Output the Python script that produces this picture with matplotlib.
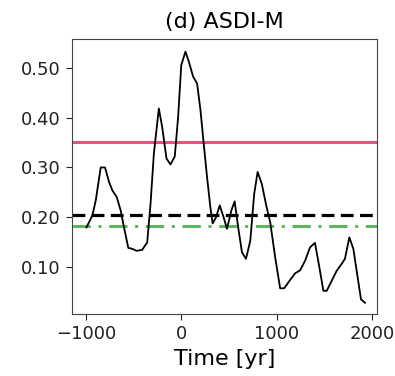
import matplotlib
matplotlib.use("Agg")
import matplotlib.pyplot as plt
from matplotlib.ticker import FormatStrFormatter

years = [-993, -931, -896, -844, -799, -757, -722, -677, -635, -600, -555, -513,
         -468, -409, -357, -322, -287, -235, -200, -155, -113, -68, -33, 0, 44,
         79, 124, 166, 201, 235, 270, 305, 329, 364, 403, 444, 479, 525, 559,
         601, 636, 678, 723, 764, 800, 844, 890, 932, 984, 1036, 1078, 1134,
         1193, 1245, 1297, 1349, 1401, 1447, 1489, 1524, 1576, 1628, 1681,
         1715, 1761, 1803, 1848, 1883, 1925]
asdi = [0.180, 0.204, 0.234, 0.300, 0.300, 0.271, 0.254, 0.241, 0.214, 0.180,
        0.139, 0.137, 0.133, 0.135, 0.150, 0.227, 0.328, 0.418, 0.381, 0.318,
        0.306, 0.322, 0.401, 0.505, 0.532, 0.512, 0.482, 0.468, 0.415, 0.348,
        0.281, 0.220, 0.188, 0.200, 0.224, 0.200, 0.177, 0.214, 0.232, 0.174,
        0.130, 0.117, 0.153, 0.247, 0.291, 0.267, 0.224, 0.190, 0.120, 0.058,
        0.058, 0.073, 0.088, 0.094, 0.113, 0.140, 0.149, 0.100, 0.053, 0.053,
        0.073, 0.093, 0.107, 0.117, 0.160, 0.137, 0.080, 0.036, 0.029]

red_level = 0.351
black_level = 0.205
green_level = 0.182

title = "(d) ASDI-M"
xlabel = "Time [yr]"
xticks = [-1000, 0, 1000, 2000]
yticks = [0.10, 0.20, 0.30, 0.40, 0.50]

fig = plt.figure(figsize=(3.95, 3.76), dpi=100)
ax = fig.add_axes([0.182, 0.165, 0.772, 0.731])

ax.axhline(red_level, color="#e2557f", lw=2.2, zorder=1)
ax.axhline(black_level, color="black", lw=2.3, ls=(0, (4, 2)), zorder=2)
ax.axhline(green_level, color="#5cb85c", lw=2.2, ls=(0, (6, 2.5, 1, 2.5)), zorder=2)
ax.plot(years, asdi, color="black", lw=1.3, zorder=3)

ax.set_xticks(xticks)
ax.set_yticks(yticks)
ax.yaxis.set_major_formatter(FormatStrFormatter("%.2f"))
ax.set_xlim(-1146, 2049)
ax.set_ylim(0.0066, 0.557)
ax.tick_params(labelsize=13, colors="#222222", length=4, pad=4)
for s in ax.spines.values():
    s.set_color("#444444")
ax.set_title(title, fontsize=16, pad=8)
ax.set_xlabel(xlabel, fontsize=16, labelpad=4)

fig.savefig("out.png", dpi=100)
